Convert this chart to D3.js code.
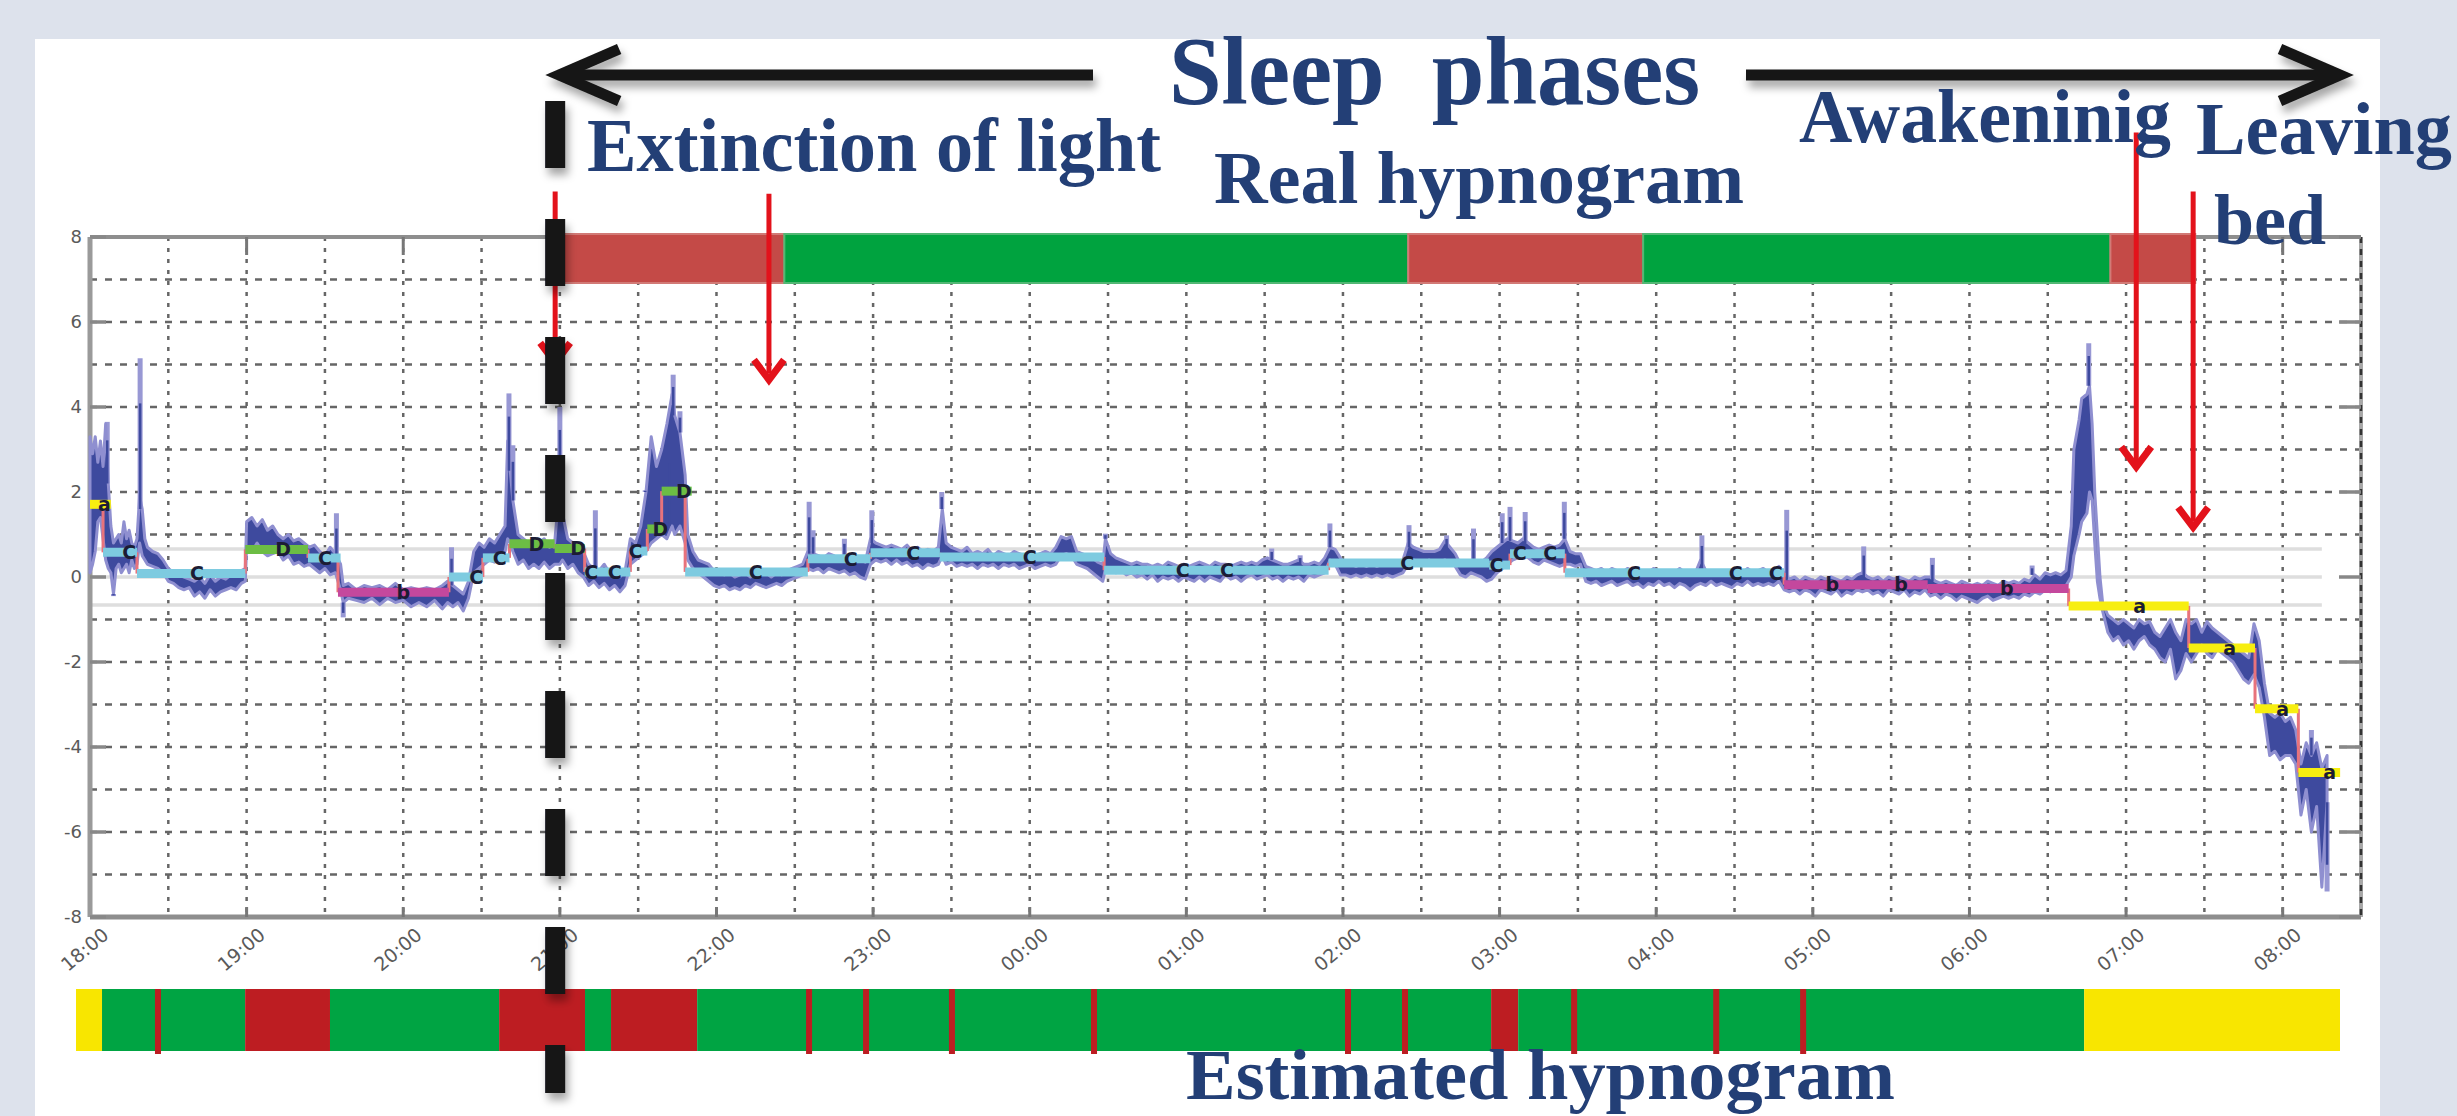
<!DOCTYPE html>
<html>
<head>
<meta charset="utf-8">
<script src="https://cdn.jsdelivr.net/npm/d3@7"></script>
<style>
  html, body { margin: 0; padding: 0; background: #dde2ec; overflow: hidden; }
</style>
</head>
<body>
<div id="chart"></div>
<script>
var width = 2457,
  height = 1116;

// minutes since 18:00 on the x axis
var hourLabels = ["18:00", "19:00", "20:00", "21:00", "22:00", "23:00", "00:00",
  "01:00", "02:00", "03:00", "04:00", "05:00", "06:00", "07:00", "08:00"];
var yTicks = [8, 6, 4, 2, 0, -2, -4, -6, -8];
var thresholds = [0.66, 0, -0.66];

// real hypnogram (top bar)
var realStart = [179, 266, 505, 595, 774];
var realEnd = [266, 505, 595, 774, 806.5];
var realStage = ["wake", "sleep", "wake", "sleep", "wake"];

// estimated hypnogram (bottom bar)
var estStart = [0, 10, 65, 97.6, 162.6, 195.6, 205.6, 238.7, 543.8, 554.2, 771.7];
var estEnd = [10, 65, 97.6, 162.6, 195.6, 205.6, 238.7, 543.8, 554.2, 771.7, 870];
var estStage = ["bed", "sleep", "wake", "sleep", "wake", "sleep", "wake", "sleep", "wake", "sleep", "bed"];
var estBrief = [31.5, 281.7, 303.6, 336.6, 391.2, 488.8, 510.7, 575.7, 630.3, 663.7];

// classified steps
var stepStart = [0, 5, 18, 59.5, 83.5, 95, 137.5, 150.5, 160.7, 178, 189.5, 207, 213.5, 219, 228, 275, 299, 325.6, 388.5, 474.5, 536, 544, 565, 649, 704, 758, 804, 829.4, 846];
var stepEnd = [8, 18, 59.5, 83.5, 96, 137.5, 150.5, 160.7, 178, 189.5, 207, 213.5, 220, 230.5, 275, 299, 325.6, 388.5, 474.5, 536, 544, 565, 649, 704, 758, 804, 829.4, 846, 862];
var stepVal = [1.71, 0.58, 0.08, 0.65, 0.45, -0.36, 0.0, 0.45, 0.78, 0.67, 0.12, 0.61, 1.13, 2.02, 0.12, 0.43, 0.57, 0.47, 0.16, 0.33, 0.28, 0.55, 0.1, -0.18, -0.27, -0.68, -1.67, -3.1, -4.6];
var stepCls = ["A", "C", "C", "D", "C", "B", "C", "C", "D", "D", "C", "C", "D", "D", "C", "C", "C", "C", "C", "C", "C", "C", "C", "B", "B", "A", "A", "A", "A"];
var labelT = [5.5, 15, 41, 74, 90, 120, 148, 157, 171, 187, 192, 201, 209, 218.5, 227.5, 255, 291.4, 315.4, 360, 418.6, 435.6, 504.6, 538.8, 547.7, 559.4, 591.5, 630.5, 645.8, 667.5, 693.8, 734.3, 785.2, 819.7, 840, 858];

// red arrows (time, top value, tip value)
var arrowT = [178.2, 260.1, 783.9, 805.7];
var arrowTop = [9.07, 9.02, 10.46, 9.07];
var arrowTip = [5.04, 4.64, 2.59, 1.17];

// isolated spikes of the signal [minute, value]
var spikes = [[6.6, 3.65], [9, -0.45], [19.2, 5.15], [94.4, 1.5], [97, -0.95], [138.5, 0.7],
  [160.5, 4.32], [162, 3.1], [180, 4.0], [193.6, 1.57], [212.7, 2.04], [222, 3.3],
  [223.4, 4.76], [226, 3.9], [275.5, 1.77], [277, 1.1], [289, 0.9], [299.5, 1.57],
  [326.3, 2.0], [389, 1.02], [452.7, 0.67], [463.6, 0.51], [475, 1.26], [505.3, 1.22],
  [519.7, 0.98], [530, 1.14], [541, 1.5], [544, 1.65], [549.8, 1.53], [564.8, 1.77],
  [617.5, 0.98], [650, 1.58], [679.5, 0.72], [705.8, 0.45], [744, 0.27], [765.7, 5.5],
  [851, -3.6], [857, -7.4]];

// signal envelope [minute, low, high]
var signal = [
  [0, 0.1, 3.3], [1, 0.3, 2.9], [2, 0.6, 3.3], [3, 1.3, 2.7], [4, 1.4, 3.2], [5, 0.9, 2.6],
  [6, 0.4, 3.6], [7, 0.2, 2.2], [8, 0.1, 1.2], [9, -0.4, 0.8], [10, 0.2, 0.9], [11, 0.3, 1.0],
  [12, 0.1, 0.8], [13, 0.2, 1.3], [14, 0.3, 0.9], [15, 0.1, 1.1], [16, 0.4, 0.8], [17, 0.2, 0.7],
  [18, 0.3, 0.9], [19, 0.8, 1.9], [20, 0.5, 1.6], [21, 0.4, 0.9], [22, 0.3, 0.7], [24, 0.25, 0.6],
  [26, 0.2, 0.55], [28, 0.1, 0.4], [30, -0.1, 0.2], [32, -0.15, 0.1], [34, -0.25, 0.05],
  [36, -0.3, 0.0], [38, -0.25, -0.05], [40, -0.45, -0.1], [42, -0.35, 0.0], [44, -0.5, -0.15],
  [46, -0.3, 0.05], [48, -0.45, -0.1], [50, -0.35, 0.0], [52, -0.3, -0.05], [54, -0.25, 0.05],
  [56, -0.3, 0.1], [58, -0.15, 0.15], [59.5, -0.1, 0.2], [60, 0.7, 1.3], [62, 0.6, 1.4],
  [64, 0.8, 1.2], [66, 0.6, 1.35], [68, 0.5, 1.1], [70, 0.55, 1.2], [72, 0.6, 1.0], [74, 0.4, 0.9],
  [76, 0.5, 1.0], [78, 0.3, 0.85], [80, 0.35, 0.9], [82, 0.25, 0.8], [84, 0.3, 0.7], [86, 0.2, 0.75],
  [88, 0.1, 0.6], [90, 0.2, 0.5], [92, 0.05, 0.7], [94, 0.1, 0.55], [96, -0.3, 0.3], [97, -0.6, -0.2],
  [99, -0.5, -0.15], [102, -0.55, -0.3], [105, -0.6, -0.2], [108, -0.5, -0.25], [111, -0.65, -0.2],
  [114, -0.5, -0.3], [117, -0.6, -0.15], [120, -0.55, -0.3], [123, -0.7, -0.25], [126, -0.6, -0.3],
  [129, -0.7, -0.25], [132, -0.55, -0.3], [135, -0.75, -0.2], [137, -0.6, -0.1], [139, -0.7, -0.2],
  [141, -0.6, -0.3], [143, -0.8, -0.4], [145, -0.5, -0.1], [147, 0.1, 0.6], [149, 0.2, 0.8],
  [151, 0.3, 0.7], [153, 0.4, 0.9], [155, 0.35, 0.8], [157, 0.5, 1.0], [159, 0.6, 1.2],
  [160, 0.9, 3.2], [161, 0.8, 2.5], [162, 0.6, 1.8], [164, 0.3, 1.0], [166, 0.4, 0.9], [168, 0.2, 0.8],
  [170, 0.3, 0.7], [172, 0.2, 0.8], [174, 0.35, 0.9], [176, 0.2, 0.7], [178, 0.3, 0.8], [180, 0.3, 2.2],
  [181, 0.4, 1.5], [183, 0.2, 0.9], [185, 0.3, 0.8], [187, 0.1, 0.7], [189, 0.0, 0.6], [191, -0.2, 0.3],
  [193, -0.1, 0.2], [195, -0.25, 0.15], [197, -0.15, 0.3], [199, -0.3, 0.1], [201, -0.2, 0.2],
  [203, -0.35, 0.0], [205, -0.2, 0.15], [207, 0.3, 0.9], [209, 0.4, 0.8], [211, 0.5, 1.2],
  [213, 0.6, 2.0], [215, 0.8, 3.3], [217, 0.9, 2.6], [219, 1.0, 3.0], [221, 0.9, 3.6], [223, 1.2, 4.3],
  [224, 1.0, 3.8], [226, 1.2, 3.4], [228, 0.8, 2.4], [229, 0.4, 1.0], [231, 0.2, 0.6], [233, 0.1, 0.4],
  [235, 0.0, 0.35], [237, -0.1, 0.3], [239, -0.2, 0.15], [241, -0.25, 0.1], [243, -0.2, 0.05],
  [245, -0.3, 0.1], [247, -0.25, 0.0], [249, -0.3, 0.05], [251, -0.2, 0.1], [253, -0.25, 0.0],
  [255, -0.15, 0.1], [257, -0.2, 0.05], [259, -0.25, 0.1], [261, -0.2, 0.0], [263, -0.15, 0.1],
  [265, -0.2, 0.05], [267, -0.1, 0.15], [269, -0.05, 0.2], [271, 0.0, 0.25], [273, 0.05, 0.3],
  [275, 0.2, 0.6], [277, 0.15, 0.55], [279, 0.2, 0.5], [281, 0.1, 0.45], [283, 0.2, 0.55],
  [285, 0.15, 0.5], [287, 0.1, 0.4], [289, 0.15, 0.5], [291, 0.05, 0.45], [293, 0.1, 0.5],
  [295, 0.0, 0.4], [297, -0.05, 0.35], [299, 0.3, 0.9], [301, 0.4, 0.8], [303, 0.35, 0.75],
  [305, 0.4, 0.7], [307, 0.3, 0.75], [309, 0.4, 0.7], [311, 0.3, 0.65], [313, 0.35, 0.75],
  [315, 0.25, 0.6], [317, 0.3, 0.7], [319, 0.2, 0.6], [321, 0.3, 0.65], [323, 0.25, 0.6],
  [325, 0.3, 0.7], [326.5, 0.5, 1.6], [328, 0.3, 0.8], [330, 0.35, 0.7], [332, 0.25, 0.65],
  [334, 0.3, 0.6], [336, 0.25, 0.7], [338, 0.3, 0.55], [340, 0.2, 0.6], [342, 0.3, 0.55],
  [344, 0.25, 0.65], [346, 0.3, 0.5], [348, 0.2, 0.6], [350, 0.3, 0.55], [352, 0.25, 0.5],
  [354, 0.3, 0.6], [356, 0.2, 0.55], [358, 0.25, 0.5], [360, 0.3, 0.6], [362, 0.2, 0.5],
  [364, 0.25, 0.55], [366, 0.3, 0.6], [368, 0.25, 0.55], [370, 0.3, 0.7], [372, 0.5, 0.95],
  [374, 0.55, 0.9], [376, 0.5, 0.95], [378, 0.3, 0.6], [380, 0.25, 0.55], [382, 0.2, 0.5],
  [384, 0.1, 0.45], [386, 0.0, 0.35], [388, -0.1, 0.3], [389, 0.2, 0.9], [391, 0.2, 0.55],
  [393, 0.1, 0.45], [395, 0.15, 0.4], [397, 0.05, 0.35], [399, 0.1, 0.3], [401, 0.0, 0.35],
  [403, 0.05, 0.3], [405, -0.05, 0.3], [407, 0.05, 0.25], [409, -0.1, 0.3], [411, 0.0, 0.25],
  [413, -0.05, 0.35], [415, 0.0, 0.3], [417, -0.1, 0.25], [419, 0.0, 0.3], [421, -0.05, 0.25],
  [423, -0.1, 0.3], [425, 0.0, 0.35], [427, -0.1, 0.3], [429, 0.0, 0.25], [431, -0.05, 0.35],
  [433, -0.1, 0.3], [435, 0.05, 0.3], [437, -0.05, 0.25], [439, 0.0, 0.3], [441, -0.1, 0.35],
  [443, 0.0, 0.3], [445, 0.05, 0.35], [447, -0.05, 0.3], [449, 0.0, 0.4], [451, 0.05, 0.45],
  [453, -0.05, 0.4], [455, 0.0, 0.35], [457, -0.1, 0.3], [459, 0.0, 0.3], [461, -0.05, 0.35],
  [463, 0.0, 0.4], [465, -0.1, 0.3], [467, 0.05, 0.3], [469, 0.0, 0.35], [471, 0.05, 0.3],
  [473, 0.1, 0.45], [475, 0.4, 0.7], [477, 0.3, 0.65], [479, 0.05, 0.45], [481, 0.05, 0.3],
  [483, 0.0, 0.3], [485, 0.05, 0.25], [487, 0.0, 0.3], [489, 0.05, 0.25], [491, 0.0, 0.3],
  [493, 0.05, 0.25], [495, 0.0, 0.3], [497, 0.05, 0.3], [499, 0.0, 0.3], [501, 0.05, 0.35],
  [503, 0.1, 0.4], [505, 0.3, 0.8], [507, 0.4, 0.7], [509, 0.35, 0.65], [511, 0.3, 0.6],
  [513, 0.4, 0.6], [515, 0.3, 0.6], [517, 0.35, 0.65], [519, 0.4, 0.85], [521, 0.35, 0.7],
  [523, 0.25, 0.55], [525, 0.05, 0.3], [527, 0.0, 0.3], [529, 0.1, 0.35], [531, 0.05, 0.3],
  [533, 0.0, 0.35], [535, -0.1, 0.45], [537, -0.05, 0.6], [539, 0.1, 0.7], [541, 0.2, 0.8],
  [543, 0.3, 0.9], [545, 0.4, 0.85], [547, 0.45, 0.8], [549, 0.5, 0.9], [551, 0.45, 0.8],
  [553, 0.35, 0.7], [555, 0.3, 0.65], [557, 0.4, 0.7], [559, 0.35, 0.75], [561, 0.3, 0.7],
  [563, 0.25, 0.75], [565, 0.3, 0.9], [567, 0.3, 0.6], [569, 0.25, 0.55], [571, 0.3, 0.55],
  [573, -0.1, 0.25], [575, -0.15, 0.2], [577, -0.1, 0.15], [579, -0.2, 0.2], [581, -0.15, 0.1],
  [583, -0.1, 0.2], [585, -0.2, 0.15], [587, -0.15, 0.1], [589, -0.1, 0.2], [591, -0.2, 0.15],
  [593, -0.15, 0.1], [595, -0.25, 0.15], [597, -0.15, 0.1], [599, -0.2, 0.2], [601, -0.1, 0.15],
  [603, -0.2, 0.1], [605, -0.15, 0.15], [607, -0.25, 0.1], [609, -0.15, 0.2], [611, -0.2, 0.1],
  [613, -0.3, 0.15], [615, -0.2, 0.1], [617, -0.15, 0.4], [619, -0.2, 0.15], [621, -0.1, 0.1],
  [623, -0.2, 0.15], [625, -0.15, 0.1], [627, -0.2, 0.15], [629, -0.25, 0.1], [631, -0.15, 0.15],
  [633, -0.2, 0.1], [635, -0.1, 0.2], [637, -0.2, 0.1], [639, -0.15, 0.15], [641, -0.2, 0.2],
  [643, -0.15, 0.1], [645, -0.2, 0.15], [647, -0.1, 0.25], [649, -0.3, 0.1], [651, -0.35, -0.05],
  [653, -0.3, 0.0], [655, -0.4, -0.1], [657, -0.3, 0.0], [659, -0.35, -0.05], [661, -0.45, -0.1],
  [663, -0.3, 0.0], [665, -0.35, -0.05], [667, -0.4, 0.0], [669, -0.3, -0.05], [671, -0.45, -0.1],
  [673, -0.35, 0.0], [675, -0.4, -0.05], [677, -0.3, 0.05], [679, -0.35, 0.1], [681, -0.3, 0.0],
  [683, -0.4, -0.05], [685, -0.35, 0.0], [687, -0.45, -0.1], [689, -0.3, 0.0], [691, -0.35, -0.05],
  [693, -0.4, 0.0], [695, -0.3, -0.05], [697, -0.45, -0.1], [699, -0.35, 0.0], [701, -0.4, -0.05],
  [703, -0.3, 0.0], [705, -0.45, 0.0], [707, -0.4, -0.1], [709, -0.5, -0.15], [711, -0.4, -0.1],
  [713, -0.45, -0.15], [715, -0.55, -0.2], [717, -0.45, -0.1], [719, -0.5, -0.15], [721, -0.55, -0.2],
  [723, -0.6, -0.15], [725, -0.5, -0.2], [727, -0.45, -0.1], [729, -0.55, -0.15], [731, -0.5, -0.2],
  [733, -0.45, -0.1], [735, -0.5, -0.15], [737, -0.45, -0.1], [739, -0.5, -0.15], [741, -0.4, -0.05],
  [743, -0.45, -0.1], [745, -0.35, 0.05], [747, -0.4, -0.05], [749, -0.3, 0.1], [751, -0.35, 0.05],
  [753, -0.25, 0.1], [755, -0.3, 0.05], [757, -0.2, 0.15], [759, 0.0, 1.2], [760, 0.5, 3.0],
  [762, 1.0, 3.7], [763, 1.3, 4.2], [765, 1.5, 4.3], [766, 2.0, 4.5], [767, 1.8, 3.6], [768, 0.8, 2.0],
  [769, -0.1, 1.0], [770, -0.5, 0.0], [771, -0.8, -0.6], [773, -1.3, -0.9], [775, -1.5, -1.0],
  [777, -1.4, -1.1], [779, -1.6, -1.0], [781, -1.5, -1.1], [783, -1.7, -1.2], [785, -1.5, -1.0],
  [787, -1.4, -1.1], [789, -1.6, -1.05], [791, -1.7, -1.3], [793, -1.9, -1.4], [795, -2.0, -1.2],
  [797, -1.7, -1.0], [799, -2.4, -1.3], [801, -2.2, -1.5], [803, -1.8, -1.0], [805, -2.0, -1.1],
  [807, -1.8, -1.0], [809, -1.6, -1.3], [811, -1.8, -1.05], [813, -1.9, -1.2], [815, -1.7, -1.3],
  [817, -1.8, -1.4], [819, -1.9, -1.5], [821, -2.0, -1.6], [823, -2.2, -1.7], [825, -2.4, -1.8],
  [827, -2.5, -1.9], [829, -2.3, -1.1], [831, -2.6, -1.5], [833, -3.3, -2.5], [835, -4.2, -3.2],
  [837, -4.1, -3.3], [839, -4.3, -3.2], [841, -4.2, -3.4], [843, -4.2, -3.3], [845, -4.4, -3.6],
  [847, -5.6, -4.4], [849, -5.0, -3.9], [851, -6.0, -4.2], [853, -5.4, -3.9], [855, -7.3, -4.5],
  [857, -5.3, -4.2]
];

var stageColor = { sleep: "#00a443", wake: "#bd1d22", bed: "#f8e600" };
var realColor = { sleep: "#00a33f", wake: "#c44a47" };
var stepColor = { A: "#f7ee10", B: "#c4489d", C: "#7ecbe0", D: "#6cbd44" };
var stepGlyph = { A: "a", B: "b", C: "C", D: "D" };
var navy = "#233f76";

var svg = d3
  .select("#chart")
  .append("svg")
  .attr("width", width)
  .attr("height", height);

//drop shadow, in user space so thin lines keep it
var defs = svg.append("defs");
defs
  .append("filter")
  .attr("id", "shadow")
  .attr("filterUnits", "userSpaceOnUse")
  .attr("x", 0)
  .attr("y", 0)
  .attr("width", width)
  .attr("height", height)
  .append("feDropShadow")
  .attr("dx", 3)
  .attr("dy", 7)
  .attr("stdDeviation", 4)
  .attr("flood-color", "#000")
  .attr("flood-opacity", 0.35);

//background and white panel
svg.append("rect").attr("width", width).attr("height", height).attr("fill", "#dde2ec");
svg.append("rect").attr("x", 35).attr("y", 39).attr("width", 2345).attr("height", 1090).attr("fill", "#fff");

//scales
var x = d3.scaleLinear().domain([0, 870]).range([90, 2361]);
var y = d3.scaleLinear().domain([-8, 8]).range([917, 237]);
var xBar = d3.scaleLinear().domain([0, 870]).range([76, 2340]);

var plot = svg.append("g");

//grid lines
var gridY = d3.range(-7, 8).filter(function(v) { return v !== 0; });
plot
  .selectAll(".gy")
  .data(gridY)
  .enter()
  .append("line")
  .attr("x1", x(0))
  .attr("x2", x(870))
  .attr("y1", y)
  .attr("y2", y)
  .attr("stroke", "#666")
  .attr("stroke-width", 2.5)
  .attr("stroke-dasharray", "7,8");

var gridX = d3.range(30, 870, 30);
plot
  .selectAll(".gx")
  .data(gridX)
  .enter()
  .append("line")
  .attr("x1", x)
  .attr("x2", x)
  .attr("y1", y(8))
  .attr("y2", y(-8))
  .attr("stroke", "#666")
  .attr("stroke-width", 2.5)
  .attr("stroke-dasharray", "4,7");

//light threshold lines
plot
  .selectAll(".thr")
  .data(thresholds)
  .enter()
  .append("line")
  .attr("x1", x(0))
  .attr("x2", x(855))
  .attr("y1", y)
  .attr("y2", y)
  .attr("stroke", "#dedede")
  .attr("stroke-width", 3.5);

//frame
plot.append("line").attr("x1", x(0)).attr("x2", x(870)).attr("y1", y(8)).attr("y2", y(8)).attr("stroke", "#8e8e8e").attr("stroke-width", 4);
plot.append("line").attr("x1", x(0)).attr("x2", x(870)).attr("y1", y(-8)).attr("y2", y(-8)).attr("stroke", "#8e8e8e").attr("stroke-width", 5);
plot.append("line").attr("x1", x(0)).attr("x2", x(0)).attr("y1", y(8)).attr("y2", y(-8)).attr("stroke", "#9a9a9a").attr("stroke-width", 5);
plot.append("line").attr("x1", x(870)).attr("x2", x(870)).attr("y1", y(8)).attr("y2", y(-8)).attr("stroke", "#a8a8a8").attr("stroke-width", 4);
plot.append("line").attr("x1", x(870)).attr("x2", x(870)).attr("y1", y(8)).attr("y2", y(-8)).attr("stroke", "#333").attr("stroke-width", 2.5).attr("stroke-dasharray", "6,6");

//major ticks
var hourT = hourLabels.map(function(d, i) { return i * 60; });
plot.selectAll(".tb").data(hourT.slice(1)).enter().append("line")
  .attr("x1", x).attr("x2", x).attr("y1", y(-8)).attr("y2", y(-8) - 10)
  .attr("stroke", "#777").attr("stroke-width", 3);
plot.selectAll(".tt").data(hourT.slice(1)).enter().append("line")
  .attr("x1", x).attr("x2", x).attr("y1", y(8)).attr("y2", y(8) + 18)
  .attr("stroke", "#777").attr("stroke-width", 3);
plot.selectAll(".tl").data(yTicks).enter().append("line")
  .attr("x1", x(0)).attr("x2", x(0) + 16).attr("y1", y).attr("y2", y)
  .attr("stroke", "#888").attr("stroke-width", 3.5);
plot.selectAll(".tr").data(yTicks).enter().append("line")
  .attr("x1", x(870)).attr("x2", x(870) - 22).attr("y1", y).attr("y2", y)
  .attr("stroke", "#888").attr("stroke-width", 3.5);

//tick labels
plot.selectAll(".yl").data(yTicks).enter().append("text")
  .attr("x", x(0) - 8)
  .attr("y", y)
  .attr("dy", "0.36em")
  .attr("text-anchor", "end")
  .attr("font-family", "DejaVu Sans")
  .attr("font-size", 18)
  .attr("fill", "#5a5a5a")
  .text(function(d) { return d; });

plot.selectAll(".xl").data(hourLabels).enter().append("text")
  .attr("transform", function(d, i) {
    return "translate(" + (x(i * 60) + 20) + "," + (y(-8) + 20) + ") rotate(-40)";
  })
  .attr("text-anchor", "end")
  .attr("font-family", "DejaVu Sans")
  .attr("font-size", 19)
  .attr("fill", "#5a5a5a")
  .text(function(d) { return d; });

//signal band
var band = d3
  .area()
  .x(function(d) { return x(d[0]); })
  .y0(function(d) { return y(d[1]); })
  .y1(function(d) { return y(d[2]); });

var bisect = d3.bisector(function(d) { return d[0]; }).left;
function bandAt(t) {
  var i = Math.min(bisect(signal, t), signal.length - 1);
  return signal[i];
}
function spikeBase(d) {
  var b = bandAt(d[0]);
  return d[1] > b[2] ? b[2] : b[1];
}

//light halo spikes
plot.selectAll(".spk").data(spikes).enter().append("line")
  .attr("x1", function(d) { return x(d[0]); })
  .attr("x2", function(d) { return x(d[0]); })
  .attr("y1", function(d) { return y(spikeBase(d)); })
  .attr("y2", function(d) { return y(d[1]); })
  .attr("stroke", "#9898d4")
  .attr("stroke-width", 5);

plot.append("path")
  .datum(signal)
  .attr("d", band)
  .attr("fill", "#3e4a9e")
  .attr("stroke", "#8f8fd0")
  .attr("stroke-width", 3)
  .attr("stroke-linejoin", "round");

plot.selectAll(".spk2").data(spikes).enter().append("line")
  .attr("x1", function(d) { return x(d[0]); })
  .attr("x2", function(d) { return x(d[0]); })
  .attr("y1", function(d) { return y(spikeBase(d)); })
  .attr("y2", function(d) { var base = spikeBase(d); return y(base + (d[1] - base) * 0.7); })
  .attr("stroke", "#3e4a9e")
  .attr("stroke-width", 2.5);

//step connectors
var conn = stepStart.slice(1).map(function(t, i) {
  return { t: t, a: stepVal[i], b: stepVal[i + 1] };
});
plot.selectAll(".conn").data(conn).enter().append("line")
  .attr("x1", function(d) { return x(d.t); })
  .attr("x2", function(d) { return x(d.t); })
  .attr("y1", function(d) { return y(d.a); })
  .attr("y2", function(d) { return y(d.b); })
  .attr("stroke", "#e8737c")
  .attr("stroke-width", 3);

//classified steps
plot.selectAll(".step").data(stepStart).enter().append("line")
  .attr("x1", function(d) { return x(d); })
  .attr("x2", function(d, i) { return x(stepEnd[i]); })
  .attr("y1", function(d, i) { return y(stepVal[i]); })
  .attr("y2", function(d, i) { return y(stepVal[i]); })
  .attr("stroke", function(d, i) { return stepColor[stepCls[i]]; })
  .attr("stroke-width", 9);

//step labels (first step that covers the label time)
function stepIndexAt(t) {
  for (var i = 0; i < stepStart.length; i++) {
    if (t >= stepStart[i] && t <= stepEnd[i]) return i;
  }
  return 0;
}
plot.selectAll(".slab").data(labelT).enter().append("text")
  .attr("x", function(d) { return x(d); })
  .attr("y", function(d) { return y(stepVal[stepIndexAt(d)]); })
  .attr("dy", "0.36em")
  .attr("text-anchor", "middle")
  .attr("font-family", "DejaVu Sans")
  .attr("font-weight", "bold")
  .attr("font-size", 19)
  .attr("fill", "#1c1c34")
  .text(function(d) { return stepGlyph[stepCls[stepIndexAt(d)]]; });

//real hypnogram bar
var top0 = 234, top1 = 283;
svg.selectAll(".real").data(realStart).enter().append("rect")
  .attr("x", function(d) { return x(d); })
  .attr("y", top0)
  .attr("width", function(d, i) { return x(realEnd[i]) - x(d); })
  .attr("height", top1 - top0)
  .attr("fill", function(d, i) { return realColor[realStage[i]]; })
  .attr("stroke", function(d, i) { return realStage[i] === "sleep" ? "#52b774" : "#d27a76"; })
  .attr("stroke-width", 2);

//estimated hypnogram bar
var bot0 = 989, bot1 = 1051;
svg.selectAll(".est").data(estStart).enter().append("rect")
  .attr("x", function(d) { return xBar(d); })
  .attr("y", bot0)
  .attr("width", function(d, i) { return xBar(estEnd[i]) - xBar(d); })
  .attr("height", bot1 - bot0)
  .attr("fill", function(d, i) { return stageColor[estStage[i]]; });
svg.selectAll(".brief").data(estBrief).enter().append("rect")
  .attr("x", function(d) { return xBar(d) - 3; })
  .attr("y", bot0)
  .attr("width", 6)
  .attr("height", bot1 - bot0 + 3)
  .attr("fill", stageColor.wake);

//red arrows
var red = "#e3121b";
var arr = svg.append("g");
arrowT.forEach(function(t, i) {
  var ax = x(t), tip = y(arrowTip[i]);
  arr.append("line")
    .attr("x1", ax).attr("x2", ax)
    .attr("y1", y(arrowTop[i])).attr("y2", tip - 6)
    .attr("stroke", red).attr("stroke-width", 5);
  arr.append("path")
    .attr("d", "M" + (ax - 15) + "," + (tip - 20) + "L" + ax + "," + tip + "L" + (ax + 15) + "," + (tip - 20))
    .attr("fill", "none")
    .attr("stroke", red)
    .attr("stroke-width", 7)
    .attr("stroke-linejoin", "miter");
});

//lights-off dashed marker
svg.append("line")
  .attr("x1", x(arrowT[0]))
  .attr("x2", x(arrowT[0]))
  .attr("y1", 101)
  .attr("y2", 1093)
  .attr("stroke", "#141416")
  .attr("stroke-width", 20)
  .attr("stroke-dasharray", "67,51")
  .attr("filter", "url(#shadow)");

//sleep phases arrows
var ay = 75;
var lx = x(arrowT[0]);
var blk = svg.append("g").attr("filter", "url(#shadow)");
blk.append("line").attr("x1", 1093).attr("x2", lx + 8).attr("y1", ay).attr("y2", ay)
  .attr("stroke", "#151515").attr("stroke-width", 11);
blk.append("path").attr("d", "M" + (lx + 64) + "," + (ay - 26) + "L" + (lx + 4) + "," + ay + "L" + (lx + 64) + "," + (ay + 26))
  .attr("fill", "none").attr("stroke", "#151515").attr("stroke-width", 11).attr("stroke-linejoin", "miter");
blk.append("line").attr("x1", 1746).attr("x2", 2334).attr("y1", ay).attr("y2", ay)
  .attr("stroke", "#151515").attr("stroke-width", 11);
blk.append("path").attr("d", "M2280," + (ay - 26) + "L2340," + ay + "L2280," + (ay + 26))
  .attr("fill", "none").attr("stroke", "#151515").attr("stroke-width", 11).attr("stroke-linejoin", "miter");

//annotation texts
var notes = [
  { t: "Sleep  phases", x: 1169, y: 104, w: 531, s: 98 },
  { t: "Extinction of light", x: 587, y: 171, w: 574, s: 76 },
  { t: "Real hypnogram", x: 1214, y: 203, w: 530, s: 74 },
  { t: "Awakeninig", x: 1799, y: 142, w: 372, s: 76 },
  { t: "Leaving", x: 2196, y: 154, w: 256, s: 74 },
  { t: "bed", x: 2214, y: 244, w: 112, s: 72 },
  { t: "Estimated hypnogram", x: 1186, y: 1099, w: 709, s: 72 }
];
svg.selectAll(".note").data(notes).enter().append("text")
  .attr("x", function(d) { return d.x; })
  .attr("y", function(d) { return d.y; })
  .attr("textLength", function(d) { return d.w; })
  .attr("lengthAdjust", "spacingAndGlyphs")
  .attr("font-family", "Liberation Serif")
  .attr("font-weight", "bold")
  .attr("font-size", function(d) { return d.s; })
  .attr("fill", navy)
  .style("white-space", "pre")
  .text(function(d) { return d.t; });
</script>
</body>
</html>
